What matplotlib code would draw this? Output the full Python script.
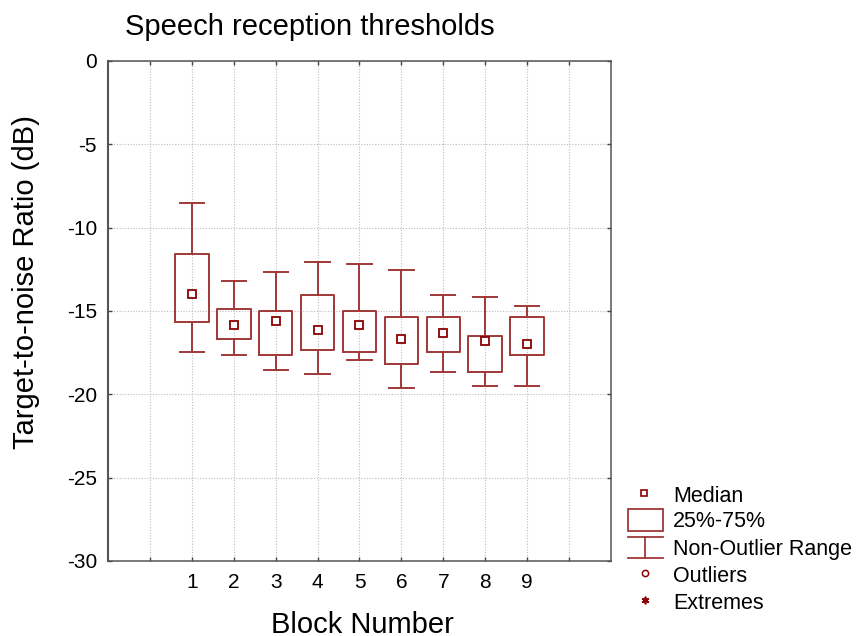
import matplotlib
matplotlib.use("Agg")
import matplotlib.pyplot as plt
from matplotlib.patches import Rectangle
from matplotlib.lines import Line2D

plt.rcParams['font.family'] = ['Liberation Sans', 'DejaVu Sans']
plt.rcParams['axes.unicode_minus'] = False

# block summary stats (dB)
blocks = [1, 2, 3, 4, 5, 6, 7, 8, 9]
medians = [-13.97, -15.82, -15.60, -16.15, -15.82, -16.65, -16.29, -16.79, -16.95]
q1 = [-15.64, -16.69, -17.66, -17.32, -17.46, -18.16, -17.46, -18.65, -17.66]
q3 = [-11.55, -14.86, -15.00, -14.03, -15.00, -15.36, -15.36, -16.47, -15.36]
lo = [-17.46, -17.66, -18.53, -18.79, -17.96, -19.64, -18.65, -19.49, -19.49]
hi = [-8.54, -13.18, -12.68, -12.05, -12.18, -12.54, -14.03, -14.17, -14.67]

box_col = '#A03838'
med_col = '#8B0000'
W, H = 859, 636


def fx(px):
    return px / W


def fy(py):
    return 1 - py / H


fig = plt.figure(figsize=(W / 100, H / 100), dpi=100)
ax = fig.add_axes([fx(108), fy(561), (611 - 108) / W, (561 - 61) / H])

stats = []
for i in range(len(blocks)):
    stats.append(dict(med=medians[i], q1=q1[i], q3=q3[i],
                      whislo=lo[i], whishi=hi[i], fliers=[]))

ax.bxp(stats, positions=blocks, widths=0.8, capwidths=0.58,
       showfliers=False, patch_artist=False,
       boxprops=dict(color=box_col, linewidth=1.4),
       whiskerprops=dict(color=box_col, linewidth=1.4),
       capprops=dict(color=box_col, linewidth=1.4),
       medianprops=dict(visible=False))
ax.plot(blocks, medians, 's', ms=5.5, mfc='white', mec=med_col, mew=1.3,
        linestyle='none', zorder=5)

ax.set_xlim(-1, 11)
ax.set_ylim(-30, 0)
ax.set_xticks(range(0, 11))
ax.set_xticklabels([''] + [str(b) for b in blocks] + [''])
ax.set_yticks(range(-30, 1, 5))
ax.grid(True, linestyle=(0, (1, 1.5)), color='#bdbdbd', linewidth=0.8)
ax.set_axisbelow(True)
for s in ax.spines.values():
    s.set_color('#555555')
    s.set_linewidth(1.1)
ax.spines['left'].set_linewidth(1.5)
ax.tick_params(direction='in', length=3.2, width=1.0, color='#444444',
               top=True, right=True, labelsize=15)
ax.tick_params(axis='x', pad=8.5)
ax.tick_params(axis='y', pad=8)

# axis titles and chart title
fig.text(fx(362), fy(633), 'Block Number', fontsize=21,
         ha='center', va='baseline')
fig.text(fx(26), fy(282), 'Target-to-noise Ratio (dB)', fontsize=21,
         rotation=90, ha='center', va='center')
fig.text(fx(125), fy(35), 'Speech reception thresholds',
         fontsize=21, va='baseline', ha='left')

# key drawn on a full-figure overlay in pixel units
key = fig.add_axes([0, 0, 1, 1])
key.set_xlim(0, W)
key.set_ylim(H, 0)
key.axis('off')
key.plot(644, 493, 's', ms=5, mfc='white', mec=med_col, mew=1.2)
key.add_patch(Rectangle((628, 509), 35, 22, fill=False, ec=box_col, lw=1.3))
key.add_line(Line2D([628, 663], [537, 537], color=box_col, lw=1.3))
key.add_line(Line2D([628, 663], [558, 558], color=box_col, lw=1.3))
key.add_line(Line2D([645, 645], [537, 558], color=box_col, lw=1.3))
key.plot(645, 573, 'o', ms=4.5, mfc='white', mec=med_col, mew=1.1)
key.plot(645, 600, marker=(6, 2, 0), ms=5.5, color=med_col, mew=1.2)
labels = ['Median', '25%-75%', 'Non-Outlier Range', 'Outliers', 'Extremes']
baselines = [502, 527, 555, 582, 609]
for t, y in zip(labels, baselines):
    key.text(673, y, t, fontsize=15.5, va='baseline', ha='left')

fig.savefig('out.png', dpi=100)
